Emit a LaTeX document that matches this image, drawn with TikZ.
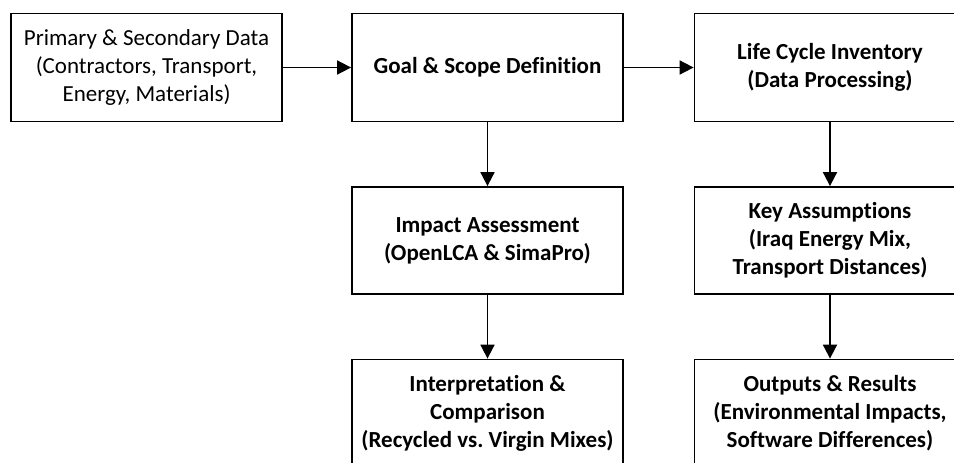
\documentclass[tikz,border=0pt]{standalone}
\usepackage{fontspec}
\setmainfont{Carlito}[Ligatures=NoCommon]
\usetikzlibrary{arrows.meta}
\frenchspacing
\begin{document}
\begin{tikzpicture}[x=1pt,y=-1pt,
  box/.style={draw=black,line width=1.8pt,minimum width=271pt,minimum height=108pt,
    align=center,inner sep=0pt,font=\fontsize{23}{28}\selectfont,text=black},
  boldbox/.style={box,font=\fontsize{23}{28}\selectfont\bfseries},
  arr/.style={line width=1.8pt,-{Triangle[length=14pt,width=14pt]}}]
\useasboundingbox (0,0) rectangle (954,463);
\clip (0,0) rectangle (954,463);
\node[box] (b1) at (146.5,67.5) {Primary \& Secondary Data\\(Contractors, Transport,\\Energy, Materials)};
\node[boldbox] (b2) at (487.5,67.5) {Goal \& Scope Definition};
\node[boldbox] (b3) at (830,67.5) {Life Cycle Inventory\\(Data Processing)};
\node[boldbox,minimum height=107pt] (b4) at (487.5,240.5) {Impact Assessment\\(OpenLCA \& SimaPro)};
\node[boldbox,minimum height=107pt] (b5) at (830,240.5) {Key Assumptions\\(Iraq Energy Mix,\\Transport Distances)};
\node[boldbox,minimum height=107pt] (b6) at (487.5,413) {Interpretation \&\\Comparison\\(Recycled vs. Virgin Mixes)};
\node[boldbox,minimum height=107pt] (b7) at (830,413) {Outputs \& Results\\(Environmental Impacts,\\Software Differences)};
\draw[arr] (b1.east) -- (b2.west);
\draw[arr] (b2.east) -- (b3.west);
\draw[arr] (b2.south) -- (b4.north);
\draw[arr] (b3.south) -- (b5.north);
\draw[arr] (b4.south) -- (b6.north);
\draw[arr] (b5.south) -- (b7.north);
\end{tikzpicture}
\end{document}
